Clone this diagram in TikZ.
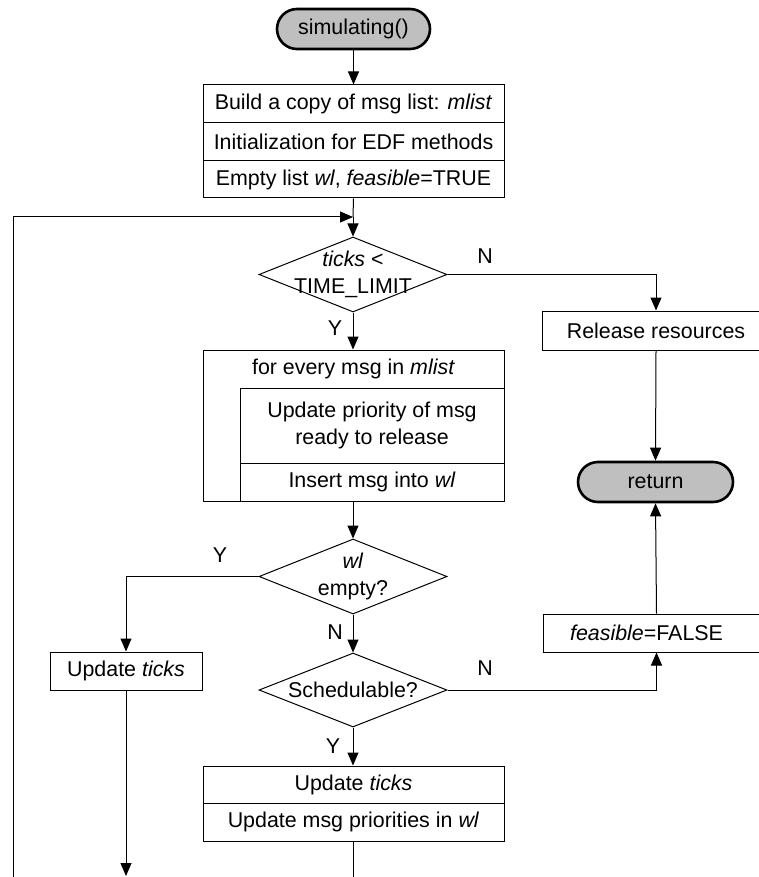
\documentclass[tikz,border=0pt]{standalone}
\usepackage{fontspec}
\setmainfont{Liberation Sans}
\usetikzlibrary{arrows.meta,shapes.geometric,shapes.misc}
\begin{document}
\begin{tikzpicture}[x=1pt,y=-1pt,
  font=\fontsize{21.4}{26.5}\selectfont,
  line width=1pt,
  box/.style={draw, rectangle, inner sep=0pt, align=center},
  term/.style={draw, rounded rectangle, fill=black!25, line width=2.6pt,
    inner sep=0pt, minimum width=153pt, minimum height=40pt},
  decision/.style={draw, diamond, inner sep=0pt, minimum width=188pt, minimum height=75pt},
  flow/.style={-{Triangle[length=13pt,width=11pt]}},
  yn/.style={inner sep=0pt}]
\useasboundingbox (0,0) rectangle (759,877);
\fill[white] (0,0) rectangle (759,877);
\clip (0,0) rectangle (759,877);

% start terminal
\node[term] (sim) at (353.5,29) {simulating()};

% initialisation block
\node[box, minimum width=301pt, minimum height=38pt] (init1) at (353.5,104) {Build a copy of msg list: \textit{mlist}};
\node[box, minimum width=301pt, minimum height=38pt] (init2) at (353.5,142) {Initialization for EDF methods};
\node[box, minimum width=301pt, minimum height=37pt] (init3) at (353.5,179.5) {Empty list \textit{wl}, \textit{feasible}=TRUE};

% loop entry point
\coordinate (join) at (353,217);

% time limit test
\node[decision, label={[align=center]center:{\textit{ticks} <\\TIME\_LIMIT}}] (d1) at (353,274.5) {};

% per-message loop
\node[box, minimum width=301pt, minimum height=151pt] (loop) at (353.5,425.5) {};
\node[inner sep=0pt] (looptxt) at (353.5,369) {for every msg in \textit{mlist}};
\node[box, minimum width=264pt, minimum height=75pt] (upd) at (372,425.5) {Update priority of msg\\ready to release};
\node[box, minimum width=264pt, minimum height=38pt] (ins) at (372,482) {Insert msg into \textit{wl}};

% waiting list test
\node[decision, label={[align=center]center:{\textit{wl}\\empty?}}] (d2) at (353,576.5) {};

% schedulability test
\node[decision, minimum height=74pt, label={center:{Schedulable?}}] (d3) at (353,690) {};

% scheduling step
\node[box, minimum width=301pt, minimum height=37pt] (sch1) at (353.5,784.5) {Update \textit{ticks}};
\node[box, minimum width=301pt, minimum height=38pt] (sch2) at (353.5,822) {Update msg priorities in \textit{wl}};

% idle step
\node[box, minimum width=152pt, minimum height=38pt] (idle) at (126,671) {Update \textit{ticks}};

% right column
\node[box, minimum width=228pt, minimum height=39pt] (rel) at (656,330.5) {Release resources};
\node[term, minimum width=155pt] (ret) at (655.5,482) {return};
\node[box, minimum width=227pt, minimum height=38pt,
  label={[xshift=-10pt]center:{\textit{feasible}=FALSE}}] (nf) at (656.5,633) {};

% free ends of the loop
\coordinate (loopfoot) at (13,900);
\coordinate (idleend) at (126,876);
\coordinate (schend) at (353,900);

% connectors
\draw[flow] (sim.south) -- (init1.north);
\draw (init3.south) -- (join);
\draw[flow] (join) -- (d1.north);
\draw[flow] (loopfoot) |- (join);
\draw[flow] (d1.south) -- (loop.north -| d1.south);
\draw[flow] (d1.east) -| (rel.north);
\draw[flow] (rel.south) -- (ret.north);
\draw[flow] (loop.south -| d2.north) -- (d2.north);
\draw[flow] (d2.west) -| (idle.north);
\draw[flow] (idle.south) -- (idleend);
\draw[flow] (d2.south) -- (d3.north);
\draw[flow] (d3.east) -| (nf.south);
\draw[flow] (nf.north) -- (ret.south);
\draw[flow] (d3.south) -- (sch1.north -| d3.south);
\draw (sch2.south -| schend) -- (schend);

% branch labels
\node[yn] (n1) at (485,256) {N};
\node[yn] (y1) at (335,328) {Y};
\node[yn] (y2) at (220,555) {Y};
\node[yn] (n2) at (335,632) {N};
\node[yn] (n3) at (485,668) {N};
\node[yn] (y3) at (333,746) {Y};
\end{tikzpicture}
\end{document}
